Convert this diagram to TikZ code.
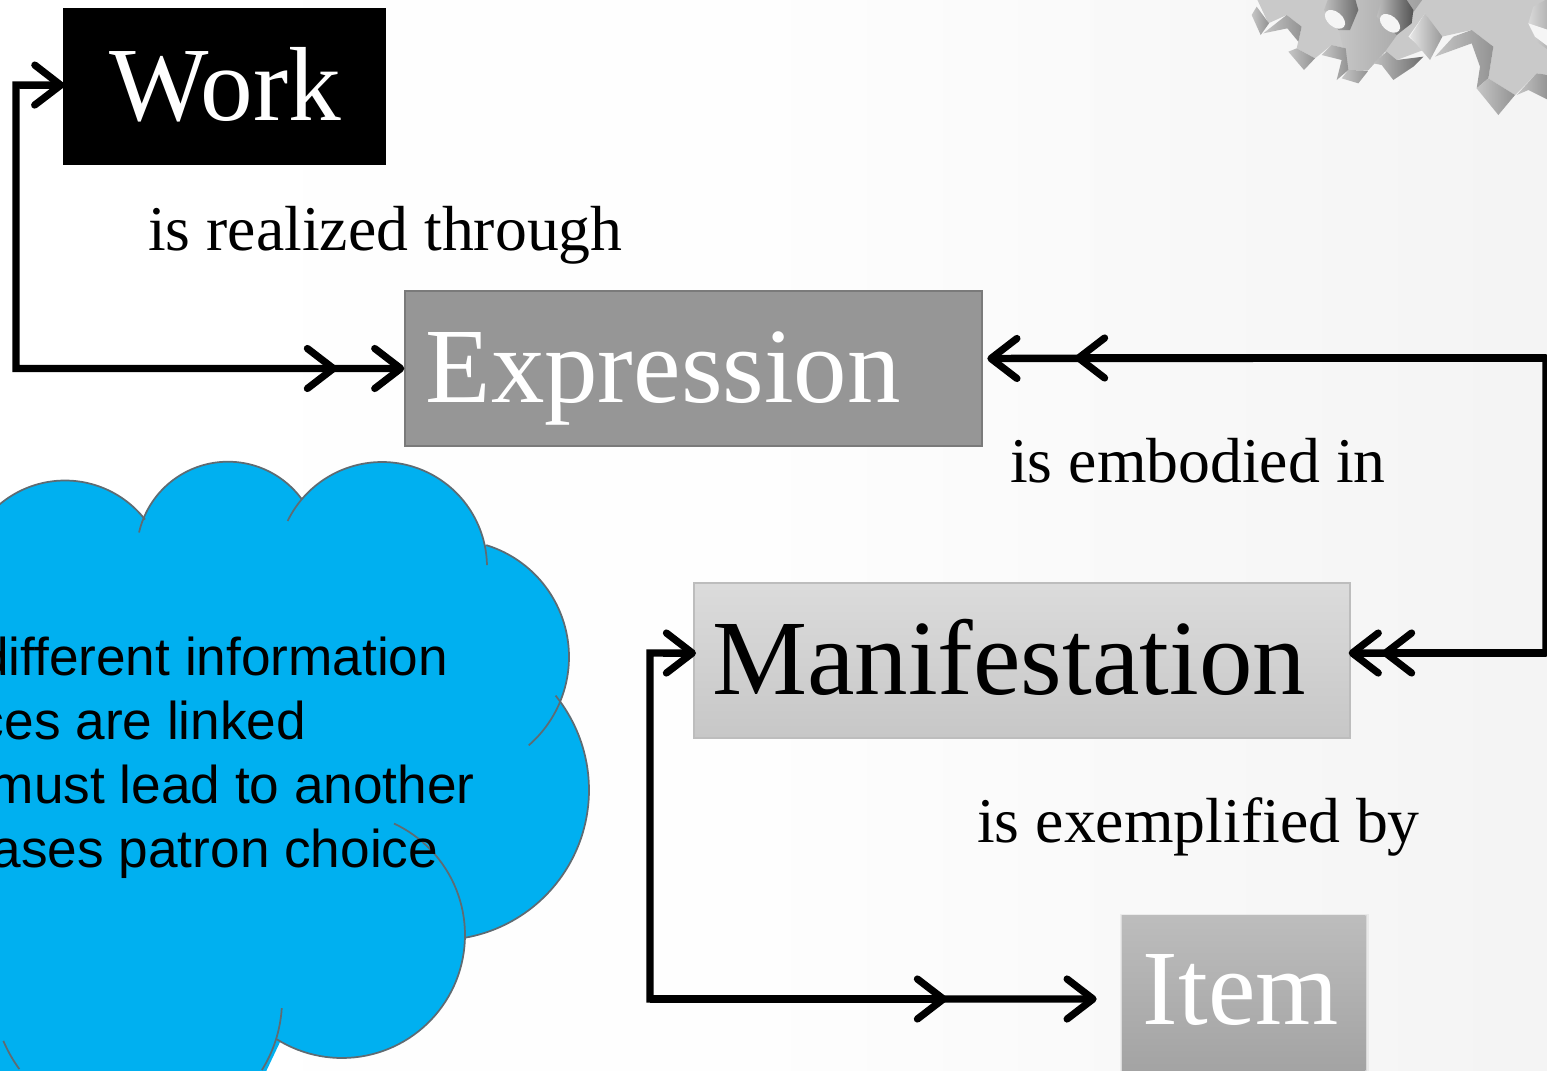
\documentclass[tikz,border=0pt]{standalone}
\usepackage{fontspec}
\setmainfont{Liberation Serif}
\newfontfamily\arialf{Liberation Sans}
\usetikzlibrary{arrows.meta}
\definecolor{cloudc}{HTML}{00B0F0}
\definecolor{cloudl}{HTML}{5F6B72}
\newcommand{\lobefill}[3]{\fill[cloudc] (#1,#2) circle[radius=#3*0.75pt];}
\newcommand{\lobearc}[5]{\draw[cloudline] plot[domain=#4:#5,samples=70] ({#1+#3*cos(\x)},{#2+#3*sin(\x)});}
\tikzset{
  boxbase/.style={anchor=north west,inner sep=0pt,outer sep=0pt,align=left,font=\fontsize{80.2pt}{90pt}\selectfont},
  link/.style={line width=5.6pt,draw=black,line join=miter},
  headl/.tip={Straight Barb[length=19.5pt,width=30pt,line width=5.4pt,round]},
  labelt/.style={anchor=base west,inner sep=0pt,font=\fontsize{47.8pt}{54pt}\selectfont},
  cloudt/.style={anchor=base east,inner sep=0pt,font=\arialf\fontsize{39.9pt}{46pt}\selectfont},
  cloudline/.style={draw=cloudl,line width=1.3pt},
  toothd/.style={left color=#1!45!white,right color=#1!85!white,draw=none},
  toothd/.default=gray
}
\begin{document}
\begin{tikzpicture}[x=0.75pt,y=-0.75pt]
\useasboundingbox (0,0) rectangle (1547,1071);
\clip (0,0) rectangle (1547,1071);
% background
\shade[left color=white,right color=white!95.5!black,middle color=white!99.5!black] (0,0) rectangle (1547,1071);
% gears
\begin{scope}[shift={(1200,0)},x=0.25pt,y=-0.25pt]
  \fill[gray!42!white] (170,-5) -- (205,70) -- (260,45) -- (305,80) -- (290,145) -- (345,175) -- (395,135) -- (435,145) -- (445,210) -- (505,210) -- (555,155) -- (590,180) -- (670,150) -- (625,110) -- (675,40) -- (725,110) -- (815,90) -- (880,140) -- (865,235) -- (945,285) -- (1010,220) -- (1045,225) -- (1045,-5) -- cycle;
  \shade[left color=gray!42!white,right color=gray!75!white] (395,-5) -- (445,210) -- (505,210) -- (555,155) -- (670,-5) -- cycle;
  \shade[toothd] (155,45) -- (170,20) -- (207,70) -- (182,105) -- cycle;
  \shade[toothd] (190,100) -- (260,45) -- (305,80) -- (295,125) -- (262,85) -- cycle;
  \shade[toothd] (265,155) -- (290,145) -- (345,175) -- (312,210) -- cycle;
  \shade[toothd] (365,165) -- (395,135) -- (437,145) -- (445,210) -- (410,240) -- (425,180) -- cycle;
  \shade[toothd] (425,235) -- (445,210) -- (505,212) -- (475,250) -- cycle;
  \shade[left color=gray!50!white,right color=gray!85!black] (520,190) -- (560,155) -- (590,180) -- (670,170) -- (640,200) -- (580,240) -- (545,195) -- cycle;
  \shade[left color=gray!20!white,right color=gray!80!white] (630,110) -- (675,40) -- (727,110) -- (690,180) -- cycle;
  \shade[toothd] (705,170) -- (760,110) -- (815,90) -- (880,140) -- (865,235) -- (830,265) -- (840,200) -- (815,130) -- cycle;
  \shade[toothd] (830,265) -- (865,235) -- (945,285) -- (895,345) -- cycle;
  \shade[toothd] (950,285) -- (1010,220) -- (1045,225) -- (1045,300) -- (985,270) -- cycle;
  \shade[left color=gray!50!white,right color=gray!85!black] (385,-5) -- (372,30) -- (415,90) -- (450,90) -- (475,30) -- (465,-5) -- cycle;
  \fill[white!92!gray] (405,58) ellipse[x radius=8.75pt,y radius=5.5pt,rotate=-40];
  \shade[left color=gray!50!white,right color=gray!65!black] (545,0) -- (530,50) -- (590,105) -- (635,70) -- (640,30) -- (620,0) -- cycle;
  \fill[white!92!gray] (570,70) ellipse[x radius=8.75pt,y radius=5.5pt,rotate=-40];
  \shade[left color=gray!30!white,right color=gray!60!white] (1045,-5) -- (1000,20) -- (985,70) -- (1010,125) -- (1045,150) -- cycle;
  \fill[white!92!gray] (1045,140) -- (1005,110) -- (985,70) -- (1045,90) -- cycle;
\end{scope}
% cloud
\fill[cloudc] (-5,600) -- (300,560) -- (460,640) -- (500,800) -- (400,950) -- (300,1000) -- (262,1080) -- (-5,1080) -- cycle;
\lobefill{65}{582}{101.5}
\lobefill{228}{553}{91.3}
\lobefill{382}{567}{105}
\lobefill{452}{657}{117}
\lobefill{439}{790}{150}
\lobefill{342}{935}{123}
\lobefill{150}{1000}{132}
\lobearc{65}{582}{101.5}{-150}{-38}
\lobearc{228}{553}{91.3}{-167}{-36}
\lobearc{382}{567}{105}{-154}{-1}
\lobearc{452}{657}{117}{-73}{49}
\lobearc{439}{790}{150}{-39}{80}
\lobearc{342}{935}{123}{-65}{122}
\lobearc{150}{1000}{132}{3.5}{32}
\lobearc{135}{985}{143}{144}{157}
\node[cloudt] (cl1) at (448.5,675) {different information};
\node[cloudt] (cl2) at (306.5,739) {ces are linked};
\node[cloudt] (cl3) at (475,803) {must lead to another};
\node[cloudt] (cl4) at (438.5,867) {ases patron choice};
% item shadow
\fill[black,opacity=.05] (1120,914) rectangle (1368.5,1075);
\fill[black,opacity=.07] (1121,915) rectangle (1367,1075);
% boxes
\node[boxbase,font=\fontsize{79pt}{90pt}\selectfont,fill=black,text=white,text width=242.25pt,text height=84pt,text depth=33.75pt] (work) at (63,8) {\hspace*{35pt}Work};
\node[boxbase,fill=white!59!black,draw=white!48!black,line width=1.6pt,text=white,text width=432.75pt,text height=83.25pt,text depth=33pt] (expression) at (405,291) {\hspace*{15.5pt}Expression};
\node[boxbase,top color=white!86!black,bottom color=white!78!black,draw=white!74!black,line width=1.2pt,text=black,text width=492pt,text height=83.25pt,text depth=33pt] (manifestation) at (694,583) {\hspace*{13.5pt}Manifestation};
\node[boxbase,top color=white!74!black,bottom color=white!64!black,text=white,text width=182.5pt,text height=81.75pt,text depth=35.25pt] (item) at (1122,915) {\hspace*{15.5pt}Item};
% labels
\node[labelt] (l1) at (148,250) {is realized through};
\node[labelt] (l2) at (1010,482) {is embodied in};
\node[labelt] (l3) at (977,842) {is exemplified by};
% connector 1
\coordinate (a1) at (16,368.5);
\coordinate (a2) at (16,85);
\coordinate (a3) at (337,368.5);
\draw[link,{headl}-{headl}] ([xshift=-0.5pt]expression.west) -- (a1) -- (a2) -- ([yshift=1pt,xshift=1pt]work.west);
\draw[link,-{headl}] (a1) -- (a3);
% connector 2
\coordinate (b1) at (1546,358);
\coordinate (b2) at (1546,653);
\coordinate (b3) at (1075,358);
\coordinate (b4) at (1382,653);
\draw[link,{headl}-{headl}] ([xshift=4pt,yshift=7.5pt]expression.east) -- (b1) -- (b2) -- ([yshift=5.6pt,xshift=-1pt]manifestation.east);
\draw[link,-{headl}] (b1) -- (b3);
\draw[link,-{headl}] (b2) -- (b4);
% connector 3
\coordinate (c1) at (650,653);
\coordinate (c2) at (650,999);
\coordinate (c3) at (947,999);
\draw[link,{headl}-{headl}] ([xshift=1.5pt,yshift=5.6pt]manifestation.west) -- (c1) -- (c2) -- ([xshift=-19pt,yshift=-4.5pt]item.west);
\draw[link,-{headl}] (c2) -- (c3);
\end{tikzpicture}
\end{document}
